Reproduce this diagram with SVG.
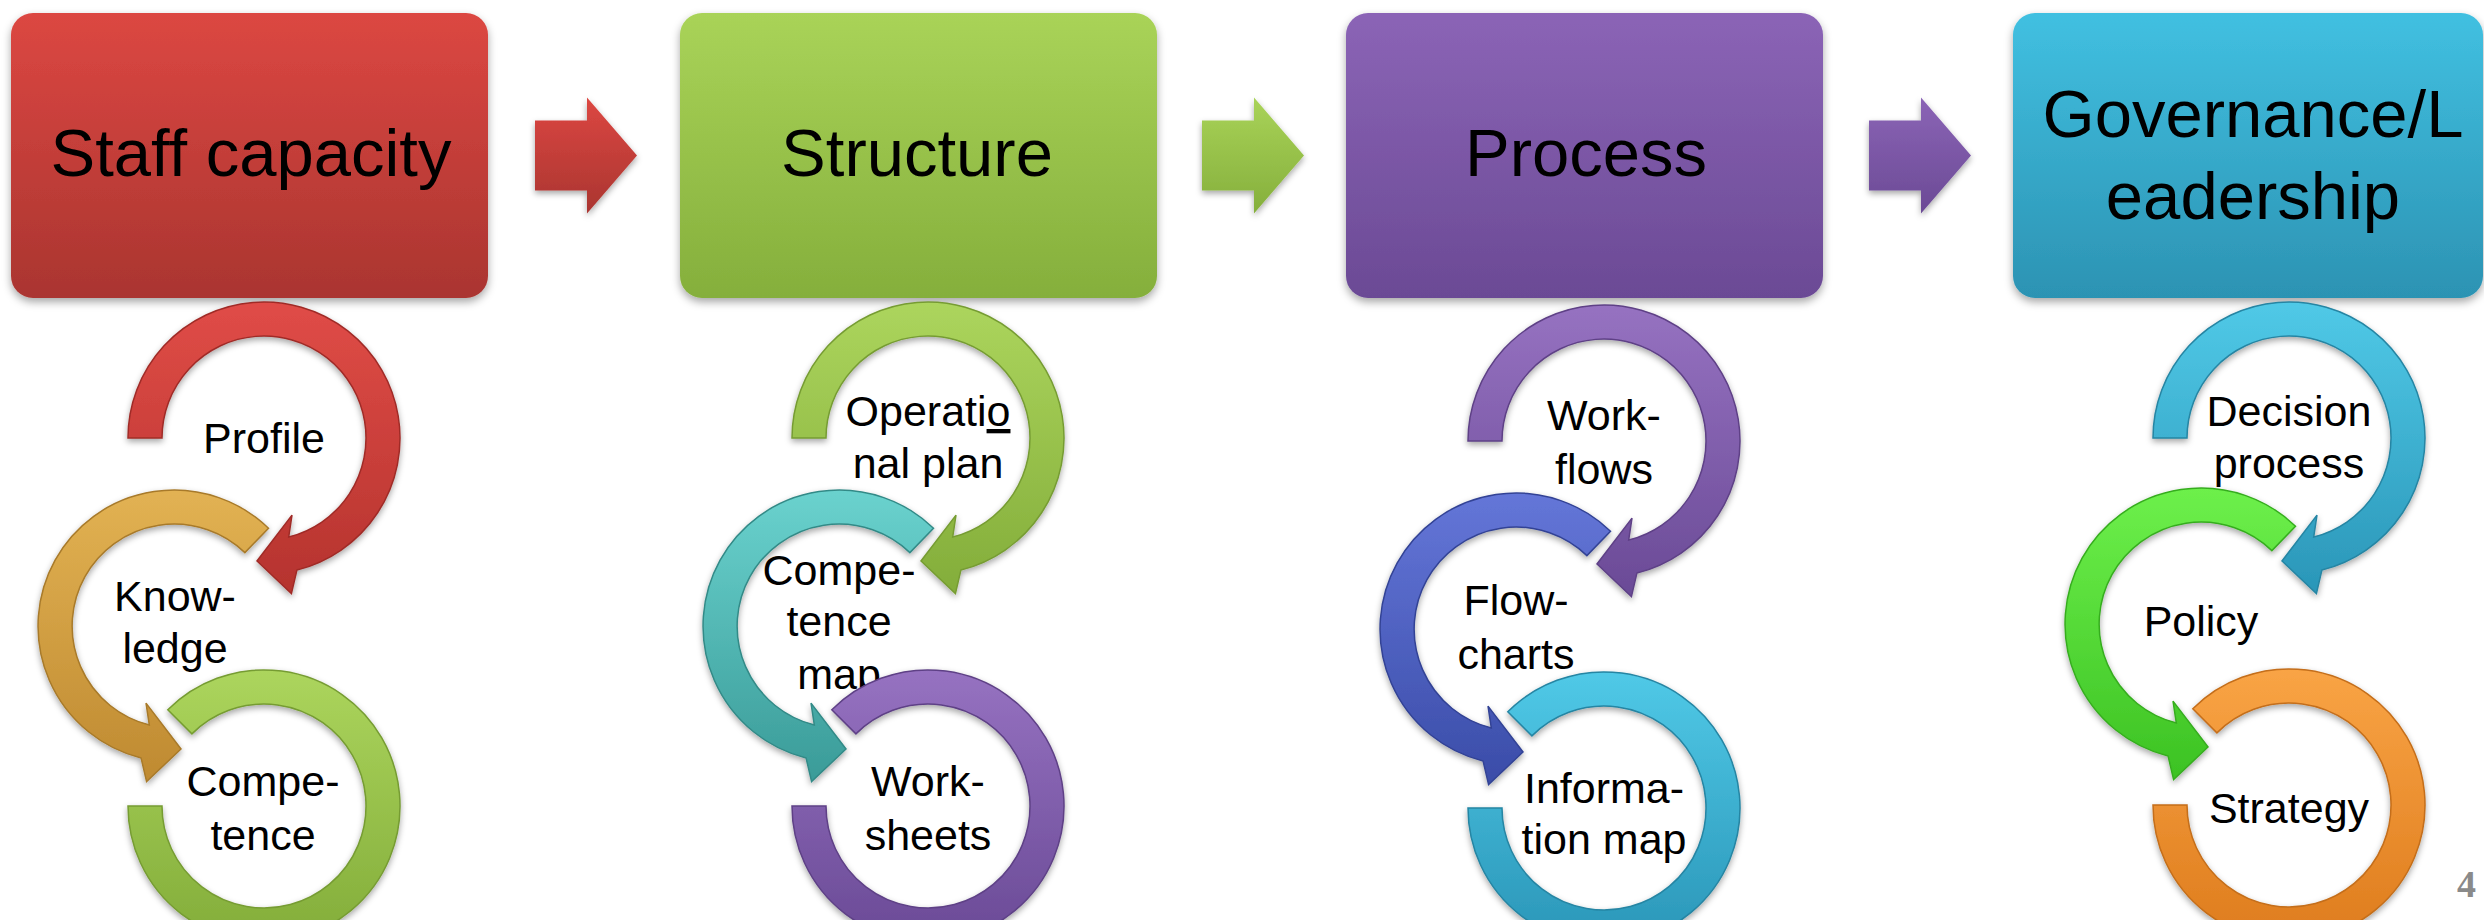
<svg xmlns="http://www.w3.org/2000/svg" xmlns:xlink="http://www.w3.org/1999/xlink" width="2484" height="920" viewBox="0 0 2484 920">
<style>
.title{font-family:"Liberation Sans",Arial,sans-serif;font-size:67px;fill:#000;text-anchor:middle}
.lbl{font-family:"Liberation Sans",Arial,sans-serif;font-size:43px;fill:#000;text-anchor:middle}
.box{filter:url(#shadow)}
.arc{filter:url(#shadow2);stroke-width:1.5}
.pg{font-family:"Liberation Serif","Times New Roman",serif;font-size:38px;font-weight:bold;fill:#8a8a8a}
</style>
<defs>
<filter id="shadow" x="-10%" y="-10%" width="120%" height="130%">
<feDropShadow dx="0" dy="4" stdDeviation="4" flood-color="#000" flood-opacity="0.35"/>
</filter>
<filter id="shadow2" x="-20%" y="-20%" width="140%" height="140%">
<feDropShadow dx="0" dy="3" stdDeviation="3" flood-color="#000" flood-opacity="0.35"/>
</filter>
<linearGradient id="bRed" x1="0" y1="0" x2="0" y2="1"><stop offset="0" stop-color="#DC4742"/><stop offset="1" stop-color="#AA3530"/></linearGradient>
<linearGradient id="bLime" x1="0" y1="0" x2="0" y2="1"><stop offset="0" stop-color="#A9D358"/><stop offset="1" stop-color="#85AF3C"/></linearGradient>
<linearGradient id="bPurple" x1="0" y1="0" x2="0" y2="1"><stop offset="0" stop-color="#8B64B6"/><stop offset="1" stop-color="#6B4A95"/></linearGradient>
<linearGradient id="bCyan" x1="0" y1="0" x2="0" y2="1"><stop offset="0" stop-color="#41C0E1"/><stop offset="1" stop-color="#2C93B3"/></linearGradient>
<linearGradient id="gRed" x1="0" y1="0" x2="0" y2="1"><stop offset="0" stop-color="#E04C47"/><stop offset="1" stop-color="#B5332E"/></linearGradient>
<linearGradient id="gGold" x1="0" y1="0" x2="0" y2="1"><stop offset="0" stop-color="#E2B253"/><stop offset="1" stop-color="#BF8A31"/></linearGradient>
<linearGradient id="gLime" x1="0" y1="0" x2="0" y2="1"><stop offset="0" stop-color="#ACD55D"/><stop offset="1" stop-color="#83AD3A"/></linearGradient>
<linearGradient id="gTeal" x1="0" y1="0" x2="0" y2="1"><stop offset="0" stop-color="#6AD2CE"/><stop offset="1" stop-color="#3A9B98"/></linearGradient>
<linearGradient id="gPurple" x1="0" y1="0" x2="0" y2="1"><stop offset="0" stop-color="#9672C1"/><stop offset="1" stop-color="#6A4A96"/></linearGradient>
<linearGradient id="gBlue" x1="0" y1="0" x2="0" y2="1"><stop offset="0" stop-color="#6476D8"/><stop offset="1" stop-color="#3A4CA8"/></linearGradient>
<linearGradient id="gCyan" x1="0" y1="0" x2="0" y2="1"><stop offset="0" stop-color="#50C9E7"/><stop offset="1" stop-color="#2A96B8"/></linearGradient>
<linearGradient id="gBright" x1="0" y1="0" x2="0" y2="1"><stop offset="0" stop-color="#6DF04B"/><stop offset="1" stop-color="#3CC223"/></linearGradient>
<linearGradient id="gOrange" x1="0" y1="0" x2="0" y2="1"><stop offset="0" stop-color="#F9A445"/><stop offset="1" stop-color="#DE7C1D"/></linearGradient>
<path id="arcA" d="M -136 0 A 136 136 0 1 1 32.9 132.0 L 27.4 155.6 L -7 123 L 28.0 77.1 L 24.7 99.0 A 102 102 0 1 0 -102 0 Z"/>
<path id="arcB" d="M 94.5 -97.8 A 136 136 0 1 0 -32.9 132.0 L -27.4 155.6 L 7 123 L -28.0 77.1 L -24.7 99.0 A 102 102 0 1 1 70.9 -73.4 Z"/>
<path id="arcC" d="M -96.2 -96.2 A 136 136 0 1 1 -136 0 L -102 0 A 102 102 0 1 0 -72.1 -72.1 Z"/>
<path id="blockArrow" d="M0,-35 H52 V-58 L102,0 L52,58 V35 H0 Z"/>
</defs>
<rect width="2484" height="920" fill="#fff"/>

<g id="box-staff" class="box">
<rect x="11" y="13" width="477" height="285" rx="22" fill="url(#bRed)"/>
<text class="title" x="251" y="176">Staff capacity</text>
</g>
<g id="box-structure" class="box">
<rect x="680" y="13" width="477" height="285" rx="22" fill="url(#bLime)"/>
<text class="title" x="917" y="176">Structure</text>
</g>
<g id="box-process" class="box">
<rect x="1346" y="13" width="477" height="285" rx="22" fill="url(#bPurple)"/>
<text class="title" x="1586" y="176">Process</text>
</g>
<g id="box-governance" class="box">
<rect x="2013" y="13" width="470" height="285" rx="22" fill="url(#bCyan)"/>
<text class="title" x="2253" y="137">Governance/L</text>
<text class="title" x="2253" y="219">eadership</text>
</g>

<g id="connectors">
<use href="#blockArrow" transform="translate(535,155.5)" fill="url(#bRed)" filter="url(#shadow2)"/>
<use href="#blockArrow" transform="translate(1202,155.5)" fill="url(#bLime)" filter="url(#shadow2)"/>
<use href="#blockArrow" transform="translate(1869,155.5)" fill="url(#bPurple)" filter="url(#shadow2)"/>
</g>

<g id="col1-profile">
<use href="#arcA" class="arc" transform="translate(264,438)" fill="url(#gRed)" stroke="#A02C28"/>
<text class="lbl" x="264" y="453">Profile</text>
</g>
<g id="col1-knowledge">
<use href="#arcB" class="arc" transform="translate(174,626)" fill="url(#gGold)" stroke="#A87A2A"/>
<text class="lbl" x="175" y="611">Know-</text>
<text class="lbl" x="175" y="663">ledge</text>
</g>
<g id="col1-competence">
<use href="#arcC" class="arc" transform="translate(264,806)" fill="url(#gLime)" stroke="#769C33"/>
<text class="lbl" x="263" y="796">Compe-</text>
<text class="lbl" x="263" y="850">tence</text>
</g>

<g id="col2-operational-plan">
<use href="#arcA" class="arc" transform="translate(928,438)" fill="url(#gLime)" stroke="#769C33"/>
<text class="lbl" x="928" y="426">Operati<tspan style="text-decoration:underline">o</tspan></text>
<text class="lbl" x="928" y="478">nal plan</text>
</g>
<g id="col2-competence-map">
<use href="#arcB" class="arc" transform="translate(839,626)" fill="url(#gTeal)" stroke="#338A87"/>
<text class="lbl" x="839" y="585">Compe-</text>
<text class="lbl" x="839" y="636">tence</text>
<text class="lbl" x="839" y="689">map</text>
</g>
<g id="col2-worksheets">
<use href="#arcC" class="arc" transform="translate(928,806)" fill="url(#gPurple)" stroke="#5E4186"/>
<text class="lbl" x="928" y="796">Work-</text>
<text class="lbl" x="928" y="850">sheets</text>
</g>

<g id="col3-workflows">
<use href="#arcA" class="arc" transform="translate(1604,441)" fill="url(#gPurple)" stroke="#5E4186"/>
<text class="lbl" x="1604" y="430">Work-</text>
<text class="lbl" x="1604" y="484">flows</text>
</g>
<g id="col3-flowcharts">
<use href="#arcB" class="arc" transform="translate(1516,629)" fill="url(#gBlue)" stroke="#334395"/>
<text class="lbl" x="1516" y="615">Flow-</text>
<text class="lbl" x="1516" y="669">charts</text>
</g>
<g id="col3-information-map">
<use href="#arcC" class="arc" transform="translate(1604,808)" fill="url(#gCyan)" stroke="#2585A3"/>
<text class="lbl" x="1604" y="803">Informa-</text>
<text class="lbl" x="1604" y="854">tion map</text>
</g>

<g id="col4-decision-process">
<use href="#arcA" class="arc" transform="translate(2289,438)" fill="url(#gCyan)" stroke="#2585A3"/>
<text class="lbl" x="2289" y="426">Decision</text>
<text class="lbl" x="2289" y="478">process</text>
</g>
<g id="col4-policy">
<use href="#arcB" class="arc" transform="translate(2201,624)" fill="url(#gBright)" stroke="#36AD1F"/>
<text class="lbl" x="2201" y="636">Policy</text>
</g>
<g id="col4-strategy">
<use href="#arcC" class="arc" transform="translate(2289,805)" fill="url(#gOrange)" stroke="#C46E1A"/>
<text class="lbl" x="2289" y="823">Strategy</text>
</g>

<text class="pg" x="2457" y="897">4</text>
</svg>
